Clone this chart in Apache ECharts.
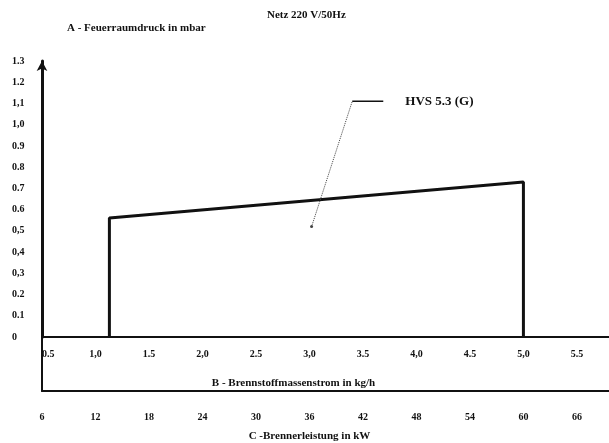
<!DOCTYPE html>
<html>
<head>
<meta charset="utf-8">
<script src="https://cdn.jsdelivr.net/npm/echarts@6/dist/echarts.min.js"></script>
<style>
  html, body { margin: 0; padding: 0; background: #fff; }
  #main { width: 609px; height: 443px; }
</style>
</head>
<body>
<div id="main"></div>
<script>
// Kennlinie HVS 5.3 (G): Brennstoffmassenstrom (kg/h) gegen Feuerraumdruck (mbar)
var flowKg = [1.13, 1.13, 5.0, 5.0];
var pressureMbar = [0, 0.56, 0.73, 0];

// Hinweislinie zur Beschriftung
var leaderFlow = [3.02, 3.40];
var leaderPressure = [0.52, 1.11];
var tagFlow = [3.40, 3.69];
var tagPressure = [1.11, 1.11];

// Achsenbeschriftungen wie im Original
var yLabels = ['0', '0.1', '0.2', '0,3', '0,4', '0,5', '0.6', '0.7', '0.8', '0.9', '1,0', '1,1', '1.2', '1.3'];
var xLabels = ['0.5', '1,0', '1.5', '2,0', '2.5', '3,0', '3.5', '4,0', '4.5', '5,0', '5.5'];
var kwLabels = ['6', '12', '18', '24', '30', '36', '42', '48', '54', '60', '66'];

function pairs(xs, ys) {
    var out = [];
    xs.forEach(function (x, i) { out.push([x, ys[i]]); });
    return out;
}

var serif = 'Liberation Serif';
var black = '#111';

var myChart = echarts.init(document.getElementById('main'));
myChart.setOption({
    animation: false,
    backgroundColor: '#fff',
    title: [
        {
            text: 'Netz 220 V/50Hz',
            left: 262, top: 5,
            textStyle: { fontFamily: serif, fontWeight: 'bold', fontSize: 11, color: black }
        },
        {
            text: 'A - Feuerraumdruck in mbar',
            left: 62, top: 18,
            textStyle: { fontFamily: serif, fontWeight: 'bold', fontSize: 11, color: black }
        }
    ],
    grid: [
        { left: 42, right: 0, top: 61, height: 276 },
        { left: 42, right: 0, top: 337, height: 54 }
    ],
    xAxis: [
        {
            gridIndex: 0, type: 'value',
            min: 0.5, max: 5.8, interval: 0.5,
            axisLine: { lineStyle: { color: black, width: 2 } },
            axisTick: { show: false },
            splitLine: { show: false },
            axisLabel: {
                showMaxLabel: false, alignMinLabel: 'left', margin: 12,
                fontFamily: serif, fontWeight: 'bold', fontSize: 10, color: black,
                formatter: function (v) { return xLabels[Math.round((v - 0.5) / 0.5)] || ''; }
            },
            name: 'B - Brennstoffmassenstrom in kg/h',
            nameLocation: 'middle', nameGap: 41,
            nameTextStyle: {
                fontFamily: serif, fontWeight: 'bold', fontSize: 11, color: black,
                padding: [0, 64, 0, 0]
            }
        },
        {
            gridIndex: 1, type: 'value',
            min: 6, max: 69.6, interval: 6,
            axisLine: { lineStyle: { color: black, width: 2 } },
            axisTick: { show: false },
            splitLine: { show: false },
            axisLabel: {
                showMaxLabel: false, margin: 21,
                fontFamily: serif, fontWeight: 'bold', fontSize: 10, color: black,
                formatter: function (v) { return kwLabels[Math.round((v - 6) / 6)] || ''; }
            },
            name: 'C -Brennerleistung in kW',
            nameLocation: 'middle', nameGap: 40,
            nameTextStyle: {
                fontFamily: serif, fontWeight: 'bold', fontSize: 11, color: black,
                padding: [0, 32, 0, 0]
            }
        }
    ],
    yAxis: [
        {
            gridIndex: 0, type: 'value',
            min: 0, max: 1.3, interval: 0.1,
            axisLine: {
                lineStyle: { color: black, width: 3 },
                symbol: ['none', 'arrow'], symbolSize: [8, 10]
            },
            axisTick: { show: false },
            splitLine: { show: false },
            axisLabel: {
                align: 'left', margin: 30, padding: [6, 0, 0, 0],
                fontFamily: serif, fontWeight: 'bold', fontSize: 10, color: black,
                formatter: function (v) { return yLabels[Math.round(v * 10)] || ''; }
            }
        },
        {
            gridIndex: 1, type: 'value',
            min: 0, max: 1,
            axisLine: { show: true, lineStyle: { color: black, width: 2 } },
            axisTick: { show: false },
            axisLabel: { show: false },
            splitLine: { show: false }
        }
    ],
    series: [
        {
            name: 'HVS 5.3 (G)',
            type: 'line',
            xAxisIndex: 0, yAxisIndex: 0,
            data: pairs(flowKg, pressureMbar),
            showSymbol: false,
            lineStyle: { color: black, width: 3 }
        },
        {
            type: 'line',
            xAxisIndex: 0, yAxisIndex: 0,
            data: pairs(leaderFlow, leaderPressure),
            symbol: 'circle',
            symbolSize: function (val, p) { return p.dataIndex === 0 ? 3 : 0; },
            itemStyle: { color: '#444' },
            lineStyle: { color: '#444', width: 1, type: 'dotted' },
            silent: true
        },
        {
            type: 'line',
            xAxisIndex: 0, yAxisIndex: 0,
            data: pairs(tagFlow, tagPressure),
            showSymbol: false,
            lineStyle: { color: black, width: 1.5 },
            endLabel: {
                show: true,
                formatter: 'HVS 5.3 (G)',
                distance: 22,
                fontFamily: serif, fontWeight: 'bold', fontSize: 13, color: black
            },
            silent: true
        }
    ]
});
</script>
</body>
</html>
